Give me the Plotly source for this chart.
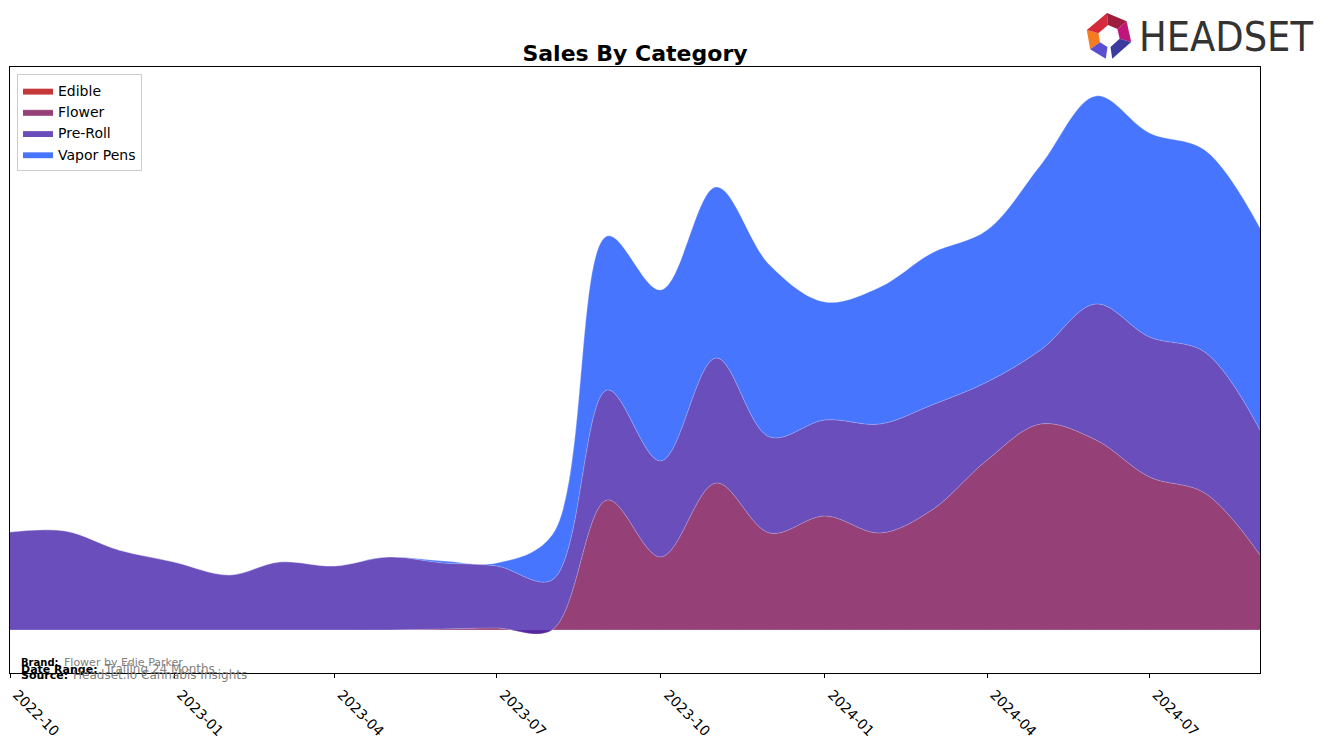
import math
import plotly.graph_objects as go

months = ["2022-10-01", "2022-11-01", "2022-12-01", "2023-01-01", "2023-02-01", "2023-03-01",
          "2023-04-01", "2023-05-01", "2023-06-01", "2023-07-01", "2023-08-01", "2023-09-01",
          "2023-10-01", "2023-11-01", "2023-12-01", "2024-01-01", "2024-02-01", "2024-03-01",
          "2024-04-01", "2024-05-01", "2024-06-01", "2024-07-01", "2024-08-01", "2024-09-01"]

edible = [0] * 24
flower = [0, 0, 0, 0, 0, 0, 0, 0, 1, 2, 0, 130, 73, 147, 97, 114, 97, 120, 170, 206, 190, 153, 137, 75]
preroll = [98, 99, 80, 68, 55, 68, 64, 73, 66, 62, 50, 110, 96, 125, 96, 96, 109, 105, 78, 74, 136, 140, 141, 125]
vapor = [0, 0, 0, 0, 0, 0, 0, 0, 2, 3, 45, 154, 171, 171, 172, 118, 137, 152, 152, 185, 208, 204, 202, 202]

series = [
    ("Edible", edible, "rgba(181,6,9,0.8)"),
    ("Flower", flower, "rgba(122,17,86,0.8)"),
    ("Pre-Roll", preroll, "rgba(69,34,171,0.8)"),
    ("Vapor Pens", vapor, "rgba(26,82,254,0.8)"),
]

FONT = "DejaVu Sans"
W, H = 1324, 743
ML, MR, MT, MB = 10, 64, 67, 70
PW, PH = W - ML - MR, H - MT - MB


def px(x):
    return (x - ML) / PW


def py(y):
    return (H - MB - y) / PH


fig = go.Figure()
for name, vals, col in series:
    fig.add_trace(go.Scatter(
        x=months, y=vals, name=name, mode="lines", stackgroup="one",
        line=dict(shape="spline", smoothing=1.0, width=0.8, color="rgba(255,255,255,0.3)"),
        fillcolor=col,
    ))

# Headset logo icon (decorative)
shapes = []
cx, cy, ro, ri = 1109, 36, 23, 11
segs = [
    (165, 215, "#f47b20"),
    (95, 165, "#d42a3c"),
    (40, 95, "#9c1d3d"),
    (-15, 40, "#c0167c"),
    (215, 262, "#5a4fd0"),
    (278, 345, "#3b3a9e"),
]
for a0, a1, c in segs:
    pts = []
    for a in (a0, a1):
        r = math.radians(a)
        pts.append((cx + ro * math.cos(r), cy - ro * math.sin(r)))
    for a in (a1, a0):
        r = math.radians(a)
        pts.append((cx + ri * math.cos(r), cy - ri * math.sin(r)))
    path = "M " + " L ".join(f"{px(x):.5f},{py(y):.5f}" for x, y in pts) + " Z"
    shapes.append(dict(type="path", xref="paper", yref="paper", path=path,
                       fillcolor=c, line=dict(width=0)))

annotations = [
    dict(text="HEADSET", xref="paper", yref="paper", x=px(1137), y=py(37),
         xanchor="left", yanchor="middle", showarrow=False,
         font=dict(family="DejaVu Sans Condensed, Liberation Sans Narrow, sans-serif", size=41, color="#333333")),
    dict(text="<b>Brand:</b>", xref="paper", yref="paper", x=px(19), y=py(662),
         xanchor="left", yanchor="middle", showarrow=False, font=dict(family=FONT, size=10, color="black")),
    dict(text="Flower by Edie Parker", xref="paper", yref="paper", x=px(62), y=py(662),
         xanchor="left", yanchor="middle", showarrow=False, font=dict(family=FONT, size=11, color="gray")),
    dict(text="<b>Date Range:</b>", xref="paper", yref="paper", x=px(19), y=py(669),
         xanchor="left", yanchor="middle", showarrow=False, font=dict(family=FONT, size=11, color="black")),
    dict(text="Trailing 24 Months", xref="paper", yref="paper", x=px(102), y=py(669),
         xanchor="left", yanchor="middle", showarrow=False, font=dict(family=FONT, size=12, color="gray")),
    dict(text="<b>Source:</b>", xref="paper", yref="paper", x=px(19), y=py(675),
         xanchor="left", yanchor="middle", showarrow=False, font=dict(family=FONT, size=11, color="black")),
    dict(text="Headset.io Cannabis Insights", xref="paper", yref="paper", x=px(71), y=py(675),
         xanchor="left", yanchor="middle", showarrow=False, font=dict(family=FONT, size=12, color="gray")),
]

fig.update_layout(
    width=W, height=H,
    margin=dict(l=ML, r=MR, t=MT, b=MB, autoexpand=False),
    paper_bgcolor="white", plot_bgcolor="white",
    font=dict(family=FONT, size=14, color="black"),
    title=dict(text="<b>Sales By Category</b>", x=px(635), xref="paper", xanchor="center",
               y=1 - 53 / H, yref="container", yanchor="middle",
               font=dict(family=FONT, size=22, color="black")),
    showlegend=True,
    legend=dict(x=px(17), y=py(74), xanchor="left", yanchor="top", traceorder="normal",
                bgcolor="white", bordercolor="#cccccc", borderwidth=1, tracegroupgap=0,
                font=dict(family=FONT, size=14, color="black")),
    shapes=shapes,
    annotations=annotations,
)
fig.update_xaxes(type="date", range=["2022-10-01", "2024-09-01"], tick0="2022-10-01", dtick="M3",
                 tickformat="%Y-%m", tickangle=45, ticks="outside", ticklen=4, tickcolor="black",
                 ticklabelshift=7, ticklabelstandoff=3,
                 showgrid=False, zeroline=False, showline=True, linecolor="black", linewidth=1, mirror=True,
                 automargin=False, tickfont=dict(family=FONT, size=14, color="black"))
fig.update_yaxes(range=[-43, 563], showticklabels=False, ticks="", showgrid=False, zeroline=False,
                 showline=True, linecolor="black", linewidth=1, mirror=True, automargin=False)

fig.write_html("out.html")
